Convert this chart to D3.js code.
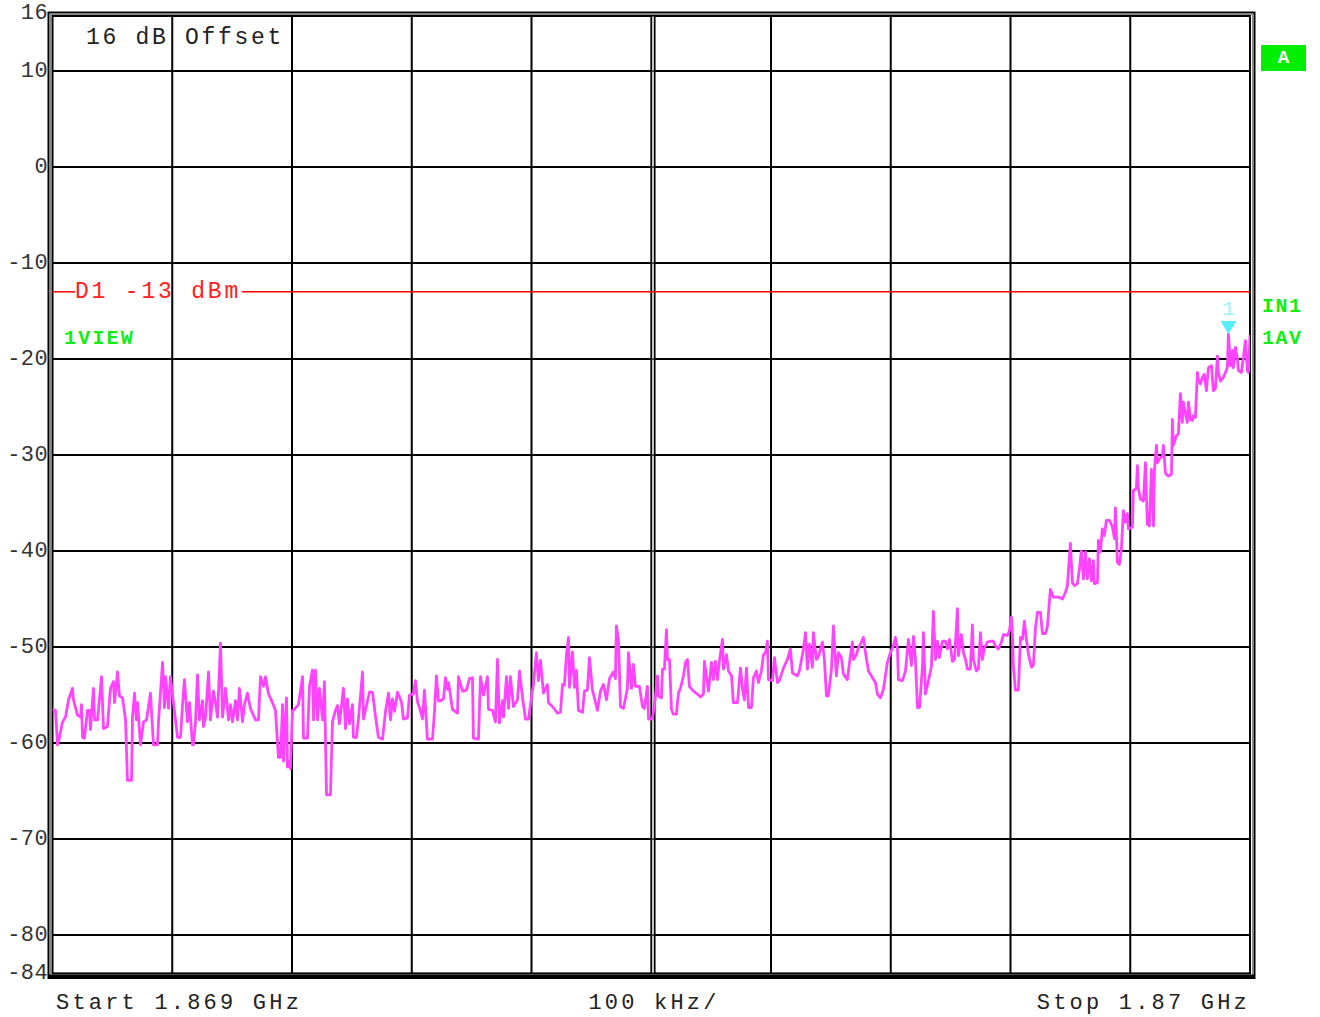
<!DOCTYPE html>
<html><head><meta charset="utf-8">
<script src="https://cdn.jsdelivr.net/npm/d3@7"></script>
<style>body{margin:0;background:#fff;}svg{display:block}</style>
</head><body><svg id="c" width="1320" height="1017"></svg>
<script>
// ---- data (kHz offset from start, level in dBm) ----
const freqKHz = [0,2.5,4.2,5.0,8.4,10.9,13.4,16.7,17.5,20.9,23.4,24.2,25.1,26.7,29.2,30.9,31.7,34.2,35.1,37.6,40.9,42.6,45.9,48.4,50.9,51.8,54.3,55.9,58.5,61.0,62.6,66.0,66.8,68.5,70.1,71.0,73.5,76.0,78.5,81.8,84.3,87.7,88.5,91.9,93.5,94.4,96.9,98.5,101.0,102.7,104.4,106.9,108.6,110.2,112.7,114.4,116.9,117.7,119.4,121.1,122.7,125.3,126.1,127.8,130.3,131.9,134.4,136.1,137.8,140.3,142.0,144.5,147.0,148.6,150.3,152.8,154.5,156.1,158.7,160.3,162.8,165.3,169.5,172.0,173.7,176.2,177.9,180.4,183.7,186.2,188.7,190.4,192.1,192.9,195.4,196.2,197.1,198.7,200.4,201.2,205.4,208.8,209.6,212.9,214.6,217.1,218.0,219.6,221.3,222.9,225.5,227.1,228.8,232.1,233.8,236.3,238.0,239.6,243.0,244.7,246.3,248.0,250.5,251.3,253.8,255.5,258.9,259.7,262.2,264.7,267.2,269.7,272.2,275.6,278.1,280.6,282.2,283.9,285.6,288.1,291.4,293.1,296.4,298.1,301.4,303.1,304.8,306.4,309.0,310.6,313.1,317.3,319.0,320.6,322.3,324.0,326.5,328.2,329.8,330.7,334.0,338.2,339.0,342.4,345.7,348.2,350.7,351.5,355.7,357.4,359.9,363.2,364.1,367.4,369.9,371.6,373.2,375.8,376.6,379.1,380.8,382.4,384.9,388.3,390.0,392.5,395.0,397.5,400.0,401.6,404.1,405.8,407.5,410.0,413.3,414.2,417.5,421.7,424.2,425.9,427.5,429.2,430.9,431.7,434.2,435.9,437.5,439.2,442.6,444.2,446.7,448.4,450.9,455.1,457.6,460.1,462.6,465.1,468.4,470.1,470.9,472.6,474.3,476.8,480.1,481.0,483.5,485.1,486.8,490.1,492.7,494.3,496.8,497.7,501.0,503.5,505.2,506.0,508.5,509.4,511.0,512.7,513.5,515.2,516.9,518.5,521.0,522.7,524.4,526.9,528.6,530.2,531.9,535.2,538.6,541.1,543.6,544.4,546.1,547.8,550.3,551.9,553.6,555.3,556.9,559.5,560.3,562.8,564.5,567.0,568.6,572.0,574.5,576.2,577.8,579.5,581.2,583.7,585.3,587.8,589.5,592.0,593.7,595.4,597.0,597.9,601.2,602.9,605.4,607.0,610.4,613.7,616.2,617.9,622.1,623.7,627.1,628.8,630.4,632.1,634.6,635.4,637.9,639.6,642.9,644.6,646.3,647.9,650.5,652.1,654.6,656.3,658.8,660.5,663.8,666.3,668.0,668.8,671.3,673.0,674.7,677.2,678.9,681.4,684.7,687.2,688.9,691.4,693.9,697.2,699.7,702.2,703.9,705.6,706.4,709.8,712.3,714.8,717.3,719.0,720.6,722.3,724.0,726.5,727.3,729.0,731.5,734.0,735.6,737.3,739.0,740.6,743.2,745.7,747.3,749.0,751.5,753.2,755.7,756.5,759.0,760.7,762.4,764.0,766.5,768.2,769.0,771.5,773.2,774.9,776.5,778.2,780.7,783.2,785.7,787.4,789.9,792.4,794.1,797.4,799.1,800.8,801.6,802.4,804.1,806.6,808.3,810.0,811.6,813.3,815.0,817.5,819.1,820.8,822.5,825.0,826.7,829.2,830.8,833.3,835.8,840.0,843.4,845.9,847.5,850.0,851.7,853.4,855.9,857.5,859.2,860.9,862.6,864.2,865.9,867.6,869.2,870.1,872.6,873.4,875.1,876.7,878.4,880.1,882.6,885.1,886.8,887.6,889.3,890.9,892.6,894.3,895.9,897.6,898.5,901.8,902.6,905.1,906.0,906.8,908.5,911.0,912.7,914.3,916.0,917.7,919.4,920.2,921.9,922.7,924.4,926.9,927.7,929.4,931.9,934.4,935.2,936.0,938.5,940.2,941.9,943.5,944.4,946.1,947.7,948.6,950.3,951.9,952.8,954.4,956.1,956.9,958.6,960.3,961.9,963.6,965.3,967.8,969.4,971.1,972.8,973.6,975.3,977.8,981.1,982.0,983.6,985.3,986.1,987.8,989.5,990.3,992.8,994.5,996.2,997.8,998.7,1000];
const levelDbm = [-56.5,-56.6,-60.2,-59.9,-57.8,-57.3,-55.5,-54.3,-55.5,-57.1,-57.3,-56.0,-59.4,-59.5,-56.6,-56.6,-58.6,-54.3,-57.6,-57.6,-53.1,-58.5,-58.3,-54.3,-53.6,-55.8,-52.6,-55.1,-55.3,-57.6,-63.9,-63.9,-57.3,-54.8,-57.6,-55.8,-60.2,-57.8,-57.6,-54.8,-60.2,-60.2,-57.8,-51.6,-56.3,-53.1,-56.4,-53.1,-55.8,-57.6,-59.4,-59.4,-56.0,-53.4,-57.8,-55.8,-60.2,-60.2,-57.8,-52.9,-57.6,-55.6,-58.3,-57.3,-52.6,-57.6,-54.6,-55.8,-57.3,-49.6,-57.3,-54.3,-57.6,-56.0,-57.8,-55.6,-57.6,-54.3,-57.8,-56.0,-54.8,-56.4,-57.6,-57.6,-53.1,-54.1,-53.1,-54.9,-55.8,-56.6,-61.5,-61.5,-56.0,-61.9,-55.3,-62.5,-61.9,-62.7,-56.6,-56.6,-56.0,-53.1,-59.5,-59.5,-54.1,-52.4,-57.6,-52.4,-57.6,-54.3,-57.6,-53.6,-65.4,-65.4,-57.8,-56.6,-56.1,-58.0,-54.3,-58.5,-55.4,-58.0,-56.0,-59.4,-59.4,-57.5,-52.6,-57.5,-56.1,-54.7,-54.7,-57.2,-59.4,-59.6,-56.7,-54.8,-57.6,-55.4,-56.7,-54.7,-55.7,-57.5,-57.4,-55.0,-54.9,-53.5,-55.7,-56.3,-57.5,-54.5,-59.6,-59.6,-56.7,-53.0,-55.6,-55.6,-55.4,-53.2,-54.4,-53.7,-56.5,-56.9,-53.1,-54.6,-54.5,-53.3,-53.2,-59.5,-59.6,-53.1,-55.0,-53.1,-56.5,-56.6,-57.8,-51.3,-57.9,-55.6,-57.3,-53.1,-56.4,-53.1,-56.2,-55.5,-52.5,-55.3,-57.5,-57.5,-55.2,-53.9,-50.6,-53.5,-51.4,-54.8,-53.9,-55.8,-56.2,-56.9,-56.8,-53.9,-54.0,-50.8,-49.0,-54.2,-50.5,-54.2,-52.4,-56.6,-56.8,-54.6,-54.5,-51.1,-54.5,-56.6,-54.6,-53.9,-55.5,-53.3,-52.6,-53.3,-47.8,-49.3,-56.2,-56.4,-54.3,-50.6,-54.3,-51.8,-54.1,-54.1,-56.2,-56.4,-54.1,-57.5,-57.5,-55.2,-53.0,-55.1,-55.3,-52.3,-52.3,-48.2,-51.3,-51.3,-56.5,-57.0,-57.0,-54.8,-54.3,-53.0,-51.6,-51.3,-54.1,-54.6,-54.9,-55.2,-54.9,-51.5,-53.1,-54.6,-51.6,-53.4,-51.5,-53.4,-51.5,-49.2,-52.3,-50.8,-52.5,-53.0,-55.8,-55.8,-52.2,-54.4,-55.5,-52.2,-56.3,-56.3,-53.2,-52.5,-53.7,-52.5,-50.8,-50.6,-49.4,-53.4,-53.5,-51.1,-53.7,-53.5,-52.2,-51.3,-50.2,-52.7,-53.0,-52.5,-50.2,-48.5,-52.3,-49.7,-52.1,-48.5,-51.3,-51.0,-49.5,-51.3,-55.1,-55.1,-52.3,-47.8,-53.0,-50.6,-51.1,-52.8,-53.4,-50.9,-49.5,-51.3,-50.8,-50.1,-49.7,-49.0,-50.6,-52.5,-53.2,-53.7,-54.9,-55.3,-54.4,-51.6,-50.6,-49.9,-49.0,-50.2,-53.4,-53.5,-52.5,-49.2,-51.9,-48.9,-51.3,-56.3,-56.3,-52.0,-48.5,-54.9,-53.5,-52.0,-46.3,-51.3,-49.4,-51.1,-49.4,-49.4,-50.2,-49.2,-51.5,-51.3,-46.0,-50.9,-48.7,-50.6,-51.3,-52.3,-52.3,-47.7,-51.3,-52.5,-52.3,-48.5,-51.3,-50.1,-49.5,-49.4,-49.4,-49.9,-50.2,-49.5,-48.7,-48.8,-48.3,-46.9,-48.5,-52.0,-54.5,-54.5,-49.0,-49.2,-47.3,-49.2,-50.8,-52.1,-51.9,-48.1,-46.4,-46.4,-48.6,-48.6,-47.9,-44.0,-44.8,-44.8,-45.0,-44.3,-43.6,-39.2,-43.3,-43.6,-43.4,-41.9,-40.0,-42.9,-40.1,-42.9,-40.8,-43.1,-41.0,-43.4,-43.3,-38.9,-40.1,-37.7,-38.4,-36.8,-36.8,-37.5,-38.7,-35.5,-41.2,-41.4,-39.8,-35.8,-37.0,-36.1,-37.7,-37.5,-33.7,-33.5,-31.1,-33.5,-34.6,-34.8,-30.8,-37.2,-37.4,-31.5,-37.4,-31.6,-29.0,-30.8,-30.4,-30.1,-29.0,-31.9,-32.2,-32.0,-26.3,-29.0,-28.0,-27.8,-23.6,-26.6,-24.5,-25.7,-26.6,-24.5,-26.3,-26.4,-25.9,-26.1,-21.4,-22.1,-22.6,-21.9,-21.6,-23.3,-20.9,-20.7,-23.3,-23.1,-19.7,-21.4,-22.3,-21.9,-20.9,-17.4,-20.7,-19.1,-20.9,-18.8,-20.0,-21.2,-21.4,-19.8,-18.1,-21.2,-21.4,-17.5];
const yTickValues = [16,10,0,-10,-20,-30,-40,-50,-60,-70,-80,-84];
const yGridValues = [10,0,-10,-20,-30,-40,-50,-60,-70,-80];
const xGridKHz = [100,200,300,400,600,700,800,900];
const xCenterKHz = 500;
const limitDbm = -13;
const limitLabel = "D1 -13 dBm";
const markerKHz = 982.0, markerDbm = -17.4, markerLabel = "1";
const offsetLabel = "16 dB Offset";
const startLabel = "Start 1.869 GHz", spanLabel = "100 kHz/", stopLabel = "Stop 1.87 GHz";
const viewLabel = "1VIEW", rightLabels = ["IN1", "1AV"], boxLabel = "A";

// ---- drawing ----
const svg = d3.select("#c");
const FONT = "'Liberation Mono','DejaVu Sans Mono',monospace";
const x = d3.scaleLinear().domain([0, 1000]).range([52.5, 1250]);
const y = d3.scaleLinear().domain([-84, 16]).range([973.4, 13.4]);
const X0 = x(0), X1 = x(1000), Y0 = y(16), Y1 = y(-84);

// frame (double line)
svg.append("rect").attr("x", 48.5).attr("y", 12.5).attr("width", 1254.5-48.5).attr("height", 978-12.5)
  .attr("fill", "none").attr("stroke", "#000").attr("stroke-width", 2);
svg.append("rect").attr("x", 50.5).attr("y", 14.5).attr("width", 1252.5-50.5).attr("height", 975.5-14.5)
  .attr("fill", "none").attr("stroke", "#888").attr("stroke-width", 1);
svg.append("rect").attr("x", X0).attr("y", 16).attr("width", X1-X0).attr("height", Y1-16)
  .attr("fill", "none").attr("stroke", "#000").attr("stroke-width", 2);
svg.append("line").attr("x1", 48).attr("x2", 1254).attr("y1", 976.5).attr("y2", 976.5)
  .attr("stroke", "#000").attr("stroke-width", 4);

// grid
const g = svg.append("g");
g.selectAll("line.h").data(yGridValues).join("line")
  .attr("x1", X0).attr("x2", X1).attr("y1", d => y(d)).attr("y2", d => y(d))
  .attr("stroke", "#000").attr("stroke-width", 2);
g.selectAll("line.v").data(xGridKHz).join("line")
  .attr("x1", d => x(d)).attr("x2", d => x(d)).attr("y1", 16).attr("y2", Y1)
  .attr("stroke", "#000").attr("stroke-width", 2);
// centre double line
[-1.6, 2.0].forEach(o => g.append("line").attr("x1", x(xCenterKHz)+1.5+o).attr("x2", x(xCenterKHz)+1.5+o)
  .attr("y1", 16).attr("y2", Y1).attr("stroke", "#000").attr("stroke-width", 1.6));
g.append("line").attr("x1", x(xCenterKHz)+1.7).attr("x2", x(xCenterKHz)+1.7).attr("y1", 16).attr("y2", Y1)
  .attr("stroke", "#999").attr("stroke-width", 1);

// y labels
svg.selectAll("text.yl").data(yTickValues).join("text")
  .attr("x", 48).attr("y", d => y(d)).attr("text-anchor", "end").attr("dominant-baseline", "central")
  .attr("font-family", FONT).attr("font-size", 22).attr("letter-spacing", 0.4).attr("fill", "#333")
  .text(d => String(d));

// offset label
svg.append("text").attr("x", 86).attr("y", 44).attr("font-family", FONT).attr("font-size", 23)
  .attr("letter-spacing", 2.7).attr("fill", "#222").text(offsetLabel);

// limit line
const lim = svg.append("g");
lim.append("line").attr("x1", X0).attr("x2", 75).attr("y1", y(limitDbm)).attr("y2", y(limitDbm))
  .attr("stroke", "#ff0000").attr("stroke-width", 1.5);
lim.append("line").attr("x1", 242).attr("x2", X1).attr("y1", y(limitDbm)).attr("y2", y(limitDbm))
  .attr("stroke", "#ff0000").attr("stroke-width", 1.5);
lim.append("text").attr("x", 75).attr("y", y(limitDbm)).attr("dominant-baseline", "central")
  .attr("font-family", FONT).attr("font-size", 23).attr("letter-spacing", 2.8).attr("fill", "#ff2020")
  .text(limitLabel);

// trace
svg.append("defs").append("clipPath").attr("id", "clip").append("rect")
  .attr("x", X0).attr("y", 16).attr("width", X1-X0).attr("height", Y1-16);
const pts = freqKHz.map((f, i) => [f, levelDbm[i]]);
svg.append("path").datum(pts).attr("clip-path", "url(#clip)")
  .attr("d", d3.line().x(d => x(d[0])).y(d => y(d[1])))
  .attr("fill", "none").attr("stroke", "#ff44ff").attr("stroke-width", 2.8).attr("stroke-linejoin", "round");

// marker
const mx = x(markerKHz), my = y(markerDbm);
svg.append("path").attr("d", `M${mx-8},${my-13} L${mx+8},${my-13} L${mx},${my} Z`).attr("fill", "#55f0ff");
svg.append("text").attr("x", mx).attr("y", my-25).attr("text-anchor", "middle").attr("dominant-baseline", "central")
  .attr("font-family", FONT).attr("font-size", 21).attr("fill", "#99f4ff").text(markerLabel);

// green labels
const GREEN = "#11ee11";
svg.append("text").attr("x", 64).attr("y", 338).attr("dominant-baseline", "central")
  .attr("font-family", FONT).attr("font-weight", "bold").attr("font-size", 20).attr("letter-spacing", 2.2)
  .attr("fill", GREEN).text(viewLabel);
svg.selectAll("text.rl").data(rightLabels).join("text")
  .attr("x", 1262).attr("y", (d, i) => 306 + i*32).attr("dominant-baseline", "central")
  .attr("font-family", FONT).attr("font-weight", "bold").attr("font-size", 20).attr("letter-spacing", 1.5)
  .attr("fill", GREEN).text(d => d);
svg.append("rect").attr("x", 1261).attr("y", 45).attr("width", 45).attr("height", 26).attr("fill", "#00ee00");
svg.append("text").attr("x", 1283.5).attr("y", 58).attr("text-anchor", "middle").attr("dominant-baseline", "central")
  .attr("font-family", FONT).attr("font-weight", "bold").attr("font-size", 19).attr("fill", "#fff").text(boxLabel);

// bottom labels
const bl = svg.append("g").attr("font-family", FONT).attr("font-size", 22).attr("letter-spacing", 3.2).attr("fill", "#222");
bl.append("text").attr("x", 56).attr("y", 1009).text(startLabel);
bl.append("text").attr("x", 654).attr("y", 1009).attr("text-anchor", "middle").text(spanLabel);
bl.append("text").attr("x", 1250).attr("y", 1009).attr("text-anchor", "end").text(stopLabel);
</script>
</body></html>
